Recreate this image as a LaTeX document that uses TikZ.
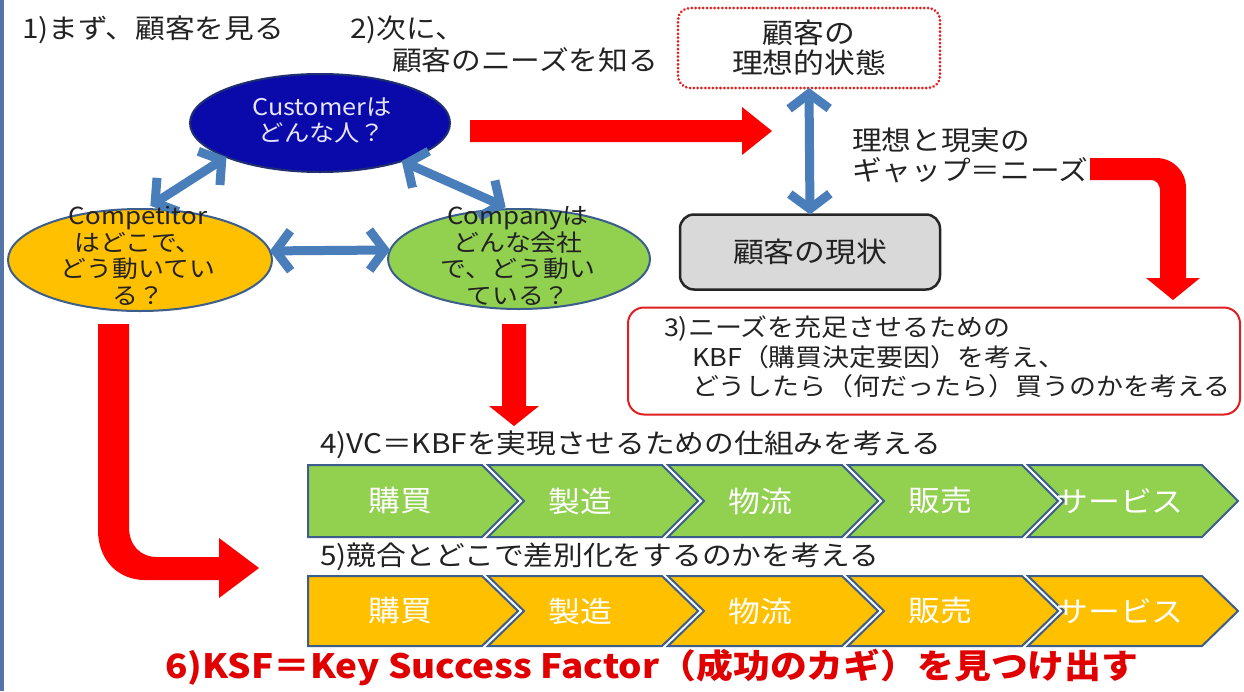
\documentclass[tikz,border=0pt]{standalone}
\usepackage{fontspec}
\setmainfont{Noto Sans CJK JP}[FakeStretch=1.1]
\usetikzlibrary{shapes.geometric,arrows.meta}
\definecolor{txtcol}{HTML}{222222}
\definecolor{custblue}{HTML}{0A0AAA}
\definecolor{custline}{HTML}{1F2F70}
\definecolor{compyellow}{HTML}{FFC000}
\definecolor{compgreen}{HTML}{92D050}
\definecolor{shapeline}{HTML}{3B5E8C}
\definecolor{arrblue}{HTML}{4A7EBB}
\definecolor{boxgray}{HTML}{D9D9D9}
\definecolor{bigred}{HTML}{FF0000}
\definecolor{boxred}{HTML}{E02020}
\definecolor{leftbar}{HTML}{5574A8}
\definecolor{ksfred}{HTML}{E00000}
\begin{document}
\begin{tikzpicture}[x=1pt,y=-1pt,
  every node/.style={inner sep=0pt,outer sep=0pt},
  jtxt/.style={text=txtcol,font=\fontsize{27}{31}\selectfont},
  elltxt/.style={text=txtcol,align=center,font=\fontsize{23.5}{26.5}\selectfont},
  ellshape/.style={ellipse,line width=2pt,draw=shapeline},
  bluearr/.style={draw=arrblue,line width=9pt,
    {Straight Barb[length=15pt,width=40pt]}-{Straight Barb[length=15pt,width=40pt]}},
  chevg/.style={fill=compgreen,draw=shapeline,line width=2pt,line join=miter},
  chevy/.style={fill=compyellow,draw=shapeline,line width=2pt,line join=miter},
  chevtxt/.style={text=white,font=\fontsize{29}{33}\selectfont}]
\useasboundingbox (0,0) rectangle (1244,691);
\fill[white] (0,0) rectangle (1244,691);
\fill[leftbar] (0,0) rectangle (4,691);

% headings
\node[jtxt,anchor=west] (t1) at (22,30) {1)まず、顧客を見る};
\node[jtxt,anchor=west] (t2a) at (350,30) {2)次に、};
\node[jtxt,anchor=west] (t2b) at (392,60) {顧客のニーズを知る};

% three C ellipses
\node[ellshape,fill=custblue,draw=custline,minimum width=260pt,minimum height=98pt] (cust) at (320,123) {};
\node[ellshape,fill=compyellow,minimum width=264pt,minimum height=102pt] (comp) at (140,260) {};
\node[ellshape,fill=compgreen,minimum width=262pt,minimum height=100pt] (compy) at (519,259) {};

% blue double arrows
\draw[bluearr,shorten <=6pt] (comp.84) -- (cust.200);
\draw[bluearr,shorten >=5pt] (cust.335) -- (compy.100);
\draw[bluearr] (comp.4) -- (compy.176);

% ellipse texts (on top)
\node[text=white!90!blue,align=center,font=\fontsize{23}{26}\selectfont] (custtxt) at (322,120) {Customerは\\どんな人？};
\node[elltxt] (comptxt) at (138,256) {Competitor\\はどこで、\\どう動いてい\\る？};
\node[elltxt] (compytxt) at (518,256) {Companyは\\どんな会社\\で、どう動い\\ている？};

% ideal / current
\node[draw=boxred,line width=3pt,dash pattern=on 0.01pt off 3.8pt,line cap=round,
  rounded corners=12pt,minimum width=262pt,minimum height=80pt,align=center,
  text=txtcol,font=\fontsize{28}{30}\selectfont] (ideal) at (809,48) {顧客の\\理想的状態};
\node[draw=black!85,fill=boxgray,line width=2.5pt,rounded corners=14pt,
  minimum width=260pt,minimum height=75pt,text=txtcol,font=\fontsize{28}{30}\selectfont] (cur) at (810,252) {顧客の現状};
\draw[bluearr] (ideal.south) -- (cur.north);
\node[jtxt,anchor=west,align=left,font=\fontsize{27}{30}\selectfont] (gap) at (852,155) {理想と現実の\\ギャップ＝ニーズ};

% red arrow to the right
\fill[bigred] (470,120) -- (742,120) -- (742,107) -- (772,131) -- (742,155) -- (742,142) -- (470,142) -- cycle;

% bent red arrow (right)
\fill[bigred] (1090,158) -- (1156,158) .. controls (1173,158) and (1186,171) .. (1186,188)
  -- (1186,278) -- (1200,278) -- (1173,300) -- (1146,278) -- (1160,278) -- (1160,192)
  .. controls (1160,184) and (1157,180) .. (1150,180) -- (1090,180) -- cycle;

% KBF box
\node[draw=boxred,line width=2pt,rounded corners=16pt,minimum width=612pt,minimum height=107pt] (kbf) at (934,361) {};
\node[anchor=west,align=left,text=txtcol,font=\fontsize{24.5}{29.5}\selectfont] (kbftxt) at (664,357)
  {3)ニーズを充足させるための\\\hspace*{28pt}KBF（購買決定要因）を考え、\\\hspace*{28pt}どうしたら（何だったら）買うのかを考える};

% down red arrow
\fill[bigred] (502,324) -- (526,324) -- (526,406) -- (539,406) -- (514,426) -- (489,406) -- (502,406) -- cycle;

% L red arrow (left)
\fill[bigred] (98,324) -- (129,324) -- (129,527) .. controls (129,545) and (140,557) .. (157,557)
  -- (219,557) -- (219,538) -- (259,568) -- (219,598) -- (219,580) -- (145,580)
  .. controls (118,580) and (98,560) .. (98,530) -- cycle;

% value chain rows
\node[jtxt,anchor=west] (t4) at (320,445) {4)VC＝KBFを実現させるための仕組みを考える};
\node[jtxt,anchor=west] (t5) at (320,557) {5)競合とどこで差別化をするのかを考える};
\foreach \k/\lab in {0/購買,1/製造,2/物流,3/販売,4/サービス}{
  \pgfmathsetmacro{\xa}{308+180*\k}
  \pgfmathsetmacro{\nd}{\k==0?0:36}
  \draw[chevg] (\xa,465) -- ({\xa+174},465) -- ({\xa+210},501) -- ({\xa+174},537) -- (\xa,537) -- ({\xa+\nd},501) -- cycle;
  \node[chevtxt] (g\k) at ({\xa+92},501) {\lab};
  \draw[chevy] (\xa,576) -- ({\xa+174},576) -- ({\xa+210},611) -- ({\xa+174},646) -- (\xa,646) -- ({\xa+\nd},611) -- cycle;
  \node[chevtxt] (y\k) at ({\xa+92},611) {\lab};
}

% KSF
\node[text=ksfred,font=\bfseries\fontsize{33.5}{37}\selectfont] (ksf) at (652,667) {6)KSF＝Key Success Factor（成功のカギ）を見つけ出す};
\end{tikzpicture}
\end{document}
